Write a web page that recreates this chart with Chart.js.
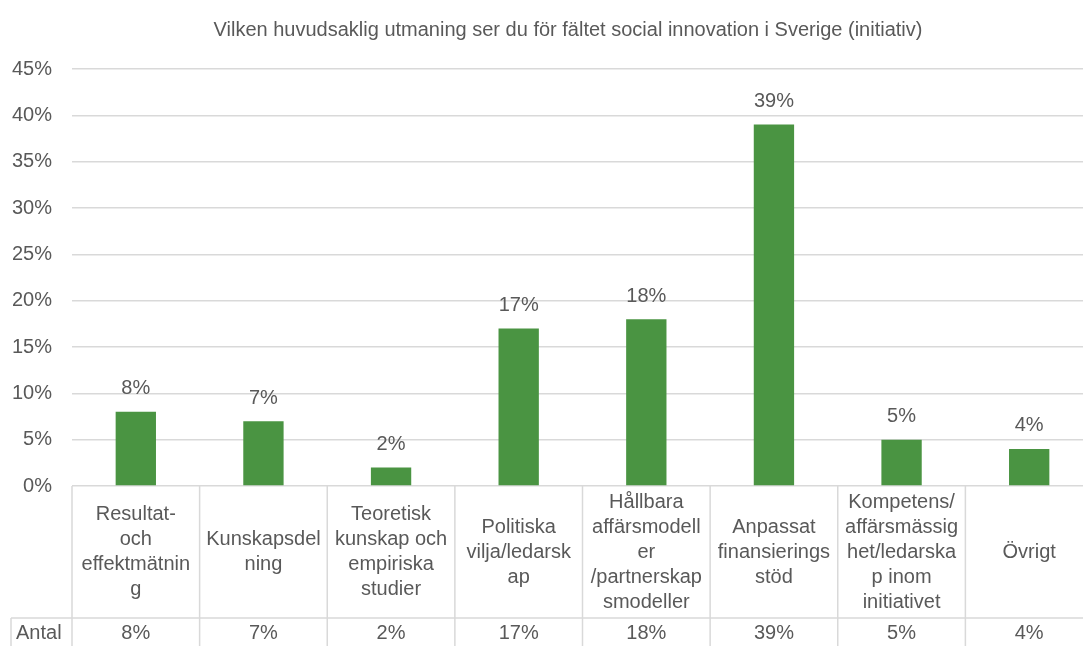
<!DOCTYPE html>
<html>
<head>
<meta charset="utf-8">
<script src="https://cdn.jsdelivr.net/npm/chart.js@4.4.0/dist/chart.umd.min.js"></script>
<style>
  html, body { margin: 0; padding: 0; background: #fff; overflow: hidden; }
  #wrap { width: 1083px; height: 646px; overflow: hidden; }
</style>
</head>
<body>
<!-- canvas is a bit wider than the window: the plot runs past the right edge like the original -->
<div id="wrap"><canvas id="chart" width="1093" height="646"></canvas></div>
<script>
// chart data
const TITLE = "Vilken huvudsaklig utmaning ser du för fältet social innovation i Sverige (initiativ)";
const categories = [
    ["Resultat-", "och", "effektmätnin", "g"],
    ["Kunskapsdel", "ning"],
    ["Teoretisk", "kunskap och", "empiriska", "studier"],
    ["Politiska", "vilja/ledarsk", "ap"],
    ["Hållbara", "affärsmodell", "er", "/partnerskap", "smodeller"],
    ["Anpassat", "finansierings", "stöd"],
    ["Kompetens/", "affärsmässig", "het/ledarska", "p inom", "initiativet"],
    ["Övrigt"]
];
const values = [8, 7, 2, 17, 18, 39, 5, 4];
const rowLabel = "Antal";
const yMax = 45;
const yStep = 5;

const FONT = "'Liberation Sans', Arial, sans-serif";
const TEXT = '#595959';
const LINE = '#d9d9d9';

// percent labels above the bars
const barLabels = {
    id: 'barLabels',
    afterDatasetsDraw(chart) {
        const ctx = chart.ctx;
        const meta = chart.getDatasetMeta(0);
        ctx.save();
        ctx.font = '20px ' + FONT;
        ctx.fillStyle = TEXT;
        ctx.textAlign = 'center';
        ctx.textBaseline = 'middle';
        meta.data.forEach((bar, i) => {
            ctx.fillText(values[i] + '%', bar.x, bar.y - 23);
        });
        ctx.restore();
    }
};

// title + data table under the plot (category names + Antal row)
const dataTable = {
    id: 'dataTable',
    afterDraw(chart) {
        const ctx = chart.ctx;
        const area = chart.chartArea;
        const xs = chart.scales.x;
        const w = xs.getPixelForValue(1) - xs.getPixelForValue(0);
        const top = area.bottom;
        const bottom = chart.height;
        const rowTop = 618;
        const lineH = 25;

        ctx.save();
        ctx.font = '20px ' + FONT;
        ctx.fillStyle = TEXT;
        ctx.textAlign = 'center';
        ctx.textBaseline = 'middle';
        ctx.fillText(TITLE, 568, 30);

        ctx.strokeStyle = LINE;
        ctx.lineWidth = 1.5;
        ctx.beginPath();
        // Antal row top line
        ctx.moveTo(11, rowTop);
        ctx.lineTo(chart.width, rowTop);
        // left border of Antal row
        ctx.moveTo(11, rowTop);
        ctx.lineTo(11, bottom);
        // column separators
        for (let i = 0; i <= categories.length; i++) {
            const x = xs.getPixelForValue(i) - w / 2;
            ctx.moveTo(x, top);
            ctx.lineTo(x, bottom);
        }
        ctx.stroke();

        const mid = (top + rowTop) / 2;
        categories.forEach((lines, i) => {
            const cx = xs.getPixelForValue(i);
            const y0 = mid - (lines.length - 1) * lineH / 2;
            lines.forEach((t, j) => ctx.fillText(t, cx, y0 + j * lineH));
            ctx.fillText(values[i] + '%', cx, (rowTop + bottom) / 2 + 1);
        });
        ctx.textAlign = 'left';
        ctx.fillText(rowLabel, 16, (rowTop + bottom) / 2 + 1);
        ctx.restore();
    }
};

new Chart(document.getElementById('chart'), {
    type: 'bar',
    data: {
        labels: categories.map(c => c.join(' ')),
        datasets: [{
            data: values,
            backgroundColor: '#4A9442',
            categoryPercentage: 1,
            barPercentage: 0.316
        }]
    },
    options: {
        responsive: false,
        animation: false,
        devicePixelRatio: 1,
        layout: { padding: { left: 0, right: 0, top: 69, bottom: 0 } },
        plugins: {
            legend: { display: false },
            tooltip: { enabled: false },
            title: { display: false }
        },
        scales: {
            x: {
                grid: { display: false },
                border: { display: false },
                ticks: { display: false },
                afterFit(s) { s.height = 160; }
            },
            y: {
                min: 0,
                max: yMax,
                ticks: {
                    stepSize: yStep,
                    callback: v => v + '%',
                    color: TEXT,
                    font: { family: FONT, size: 20 },
                    padding: 20
                },
                grid: { color: LINE, lineWidth: 1.5, drawTicks: false },
                border: { display: false },
                afterFit(s) { s.width = 72; }
            }
        }
    },
    plugins: [barLabels, dataTable]
});
</script>
</body>
</html>
